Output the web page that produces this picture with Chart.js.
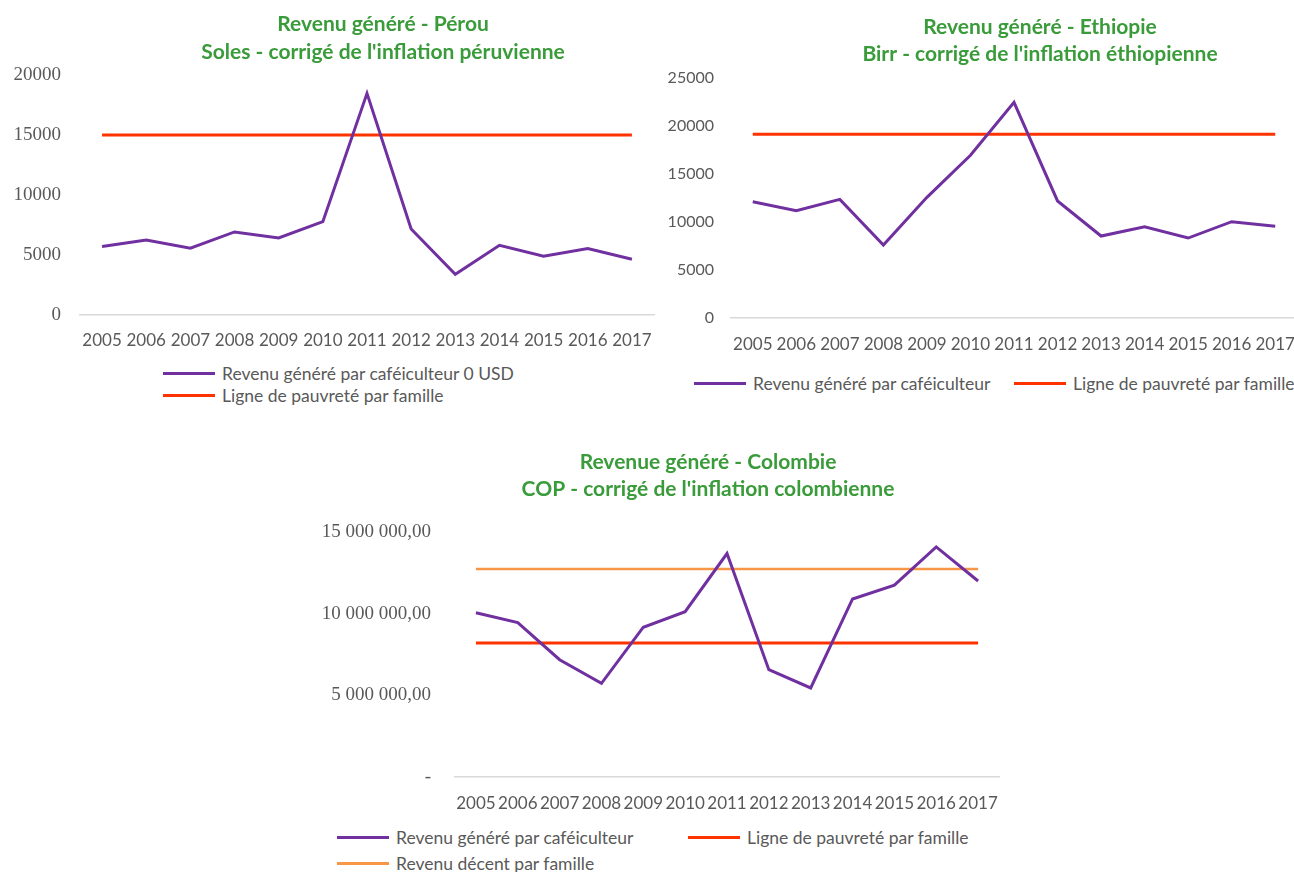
<!DOCTYPE html>
<html><head><meta charset="utf-8">
<script src="https://cdn.jsdelivr.net/npm/chart.js@4.4.1/dist/chart.umd.min.js"></script>
<style>
html,body{margin:0;padding:0;background:#fff;width:1294px;height:872px;overflow:hidden;position:relative;font-family:Lato,sans-serif;}
canvas{position:absolute;}
.item{position:absolute;white-space:nowrap;display:flex;align-items:center;height:20px;font:17.5px Lato,sans-serif;color:#595959;}
.swatch{display:inline-block;width:52px;height:3px;margin-right:7px;}
</style></head><body>
<canvas id="peru" style="left:0px;top:0px" width="766" height="355"></canvas>
<canvas id="eth" style="left:660px;top:0px" width="760" height="358"></canvas>
<canvas id="col" style="left:300px;top:440px" width="816" height="377"></canvas>
<div id="legends"></div>
<script>
const years = ['2005','2006','2007','2008','2009','2010','2011','2012','2013','2014','2015','2016','2017'];

const peruRevenue = [5700, 6250, 5560, 6920, 6420, 7780, 18470, 7170, 3390, 5810, 4890, 5530, 4640];
const peruPoverty = [15000, 15000, 15000, 15000, 15000, 15000, 15000, 15000, 15000, 15000, 15000, 15000, 15000];

const ethRevenue = [12100, 11180, 12360, 7600, 12570, 16950, 22470, 12190, 8540, 9510, 8330, 10030, 9550];
const ethPoverty = [19150, 19150, 19150, 19150, 19150, 19150, 19150, 19150, 19150, 19150, 19150, 19150, 19150];

const colRevenue = [10060000, 9450000, 7180000, 5730000, 9170000, 10120000, 13680000, 6570000, 5450000, 10900000, 11750000, 14090000, 12000000];
const colPoverty = [8200000, 8200000, 8200000, 8200000, 8200000, 8200000, 8200000, 8200000, 8200000, 8200000, 8200000, 8200000, 8200000];
const colDecent = [12730000, 12730000, 12730000, 12730000, 12730000, 12730000, 12730000, 12730000, 12730000, 12730000, 12730000, 12730000, 12730000];
const colTickValues = [0, 5000000, 10000000, 15000000];
const colTickLabels = ['-', '5 000 000,00', '10 000 000,00', '15 000 000,00'];

const peruTitle = ['Revenu généré - Pérou', "Soles - corrigé de l'inflation péruvienne"];
const ethTitle = ['Revenu généré - Ethiopie', "Birr - corrigé de l'inflation éthiopienne"];
const colTitle = ['Revenue généré - Colombie', "COP - corrigé de l'inflation colombienne"];

const PURPLE = '#7030A0', RED = '#FF3300', ORANGE = '#F79646', GREEN = '#3A9B3A', GREY = '#595959';

function makeChart(id, cfg) {
  const ds = cfg.series.map(s => ({
    label: s.label, data: s.data, borderColor: s.color, backgroundColor: s.color,
    borderWidth: s.width || 3, pointRadius: 0, tension: 0, fill: false
  }));
  return new Chart(document.getElementById(id), {
    type: 'line',
    data: { labels: years, datasets: ds },
    options: {
      responsive: false, animation: false, events: [],
      layout: { padding: 0 },
      plugins: {
        legend: { display: false }, tooltip: { enabled: false },
        title: { display: true, text: cfg.title, color: GREEN,
          font: { family: 'Lato', weight: 'bold', size: 21, lineHeight: cfg.titleLH / 21 },
          padding: { top: cfg.titleTop, bottom: cfg.titleBottom } }
      },
      scales: {
        x: { offset: true, grid: { display: false },
          border: { display: true, color: '#D9D9D9', width: 1.5 },
          ticks: { color: GREY, font: { family: 'Lato', size: 17 }, padding: cfg.xPad, maxRotation: 0, autoSkip: false },
          afterFit: s => { s.height = 40; } },
        y: { min: cfg.min, max: cfg.max, grid: { display: false }, border: { display: false },
          ticks: { stepSize: cfg.step, color: GREY, font: cfg.yFont, padding: cfg.yPad,
            callback: cfg.yCb || (v => String(v)) },
          afterFit: s => { s.width = cfg.yWidth; } },
        spacer: { type: 'linear', position: 'right', display: true,
          grid: { display: false }, border: { display: false }, ticks: { display: false },
          afterFit: s => { s.width = cfg.padRight; } }
      }
    }
  });
}

const peru = makeChart('peru', {
  series: [{ label: 'Revenu généré par caféiculteur 0 USD', data: peruRevenue, color: PURPLE },
           { label: 'Ligne de pauvreté par famille', data: peruPoverty, color: RED }],
  title: peruTitle, titleLH: 28, titleTop: 10, titleBottom: 9,
  padRight: 112, min: 0, max: 20000, step: 5000,
  yFont: { family: 'Liberation Serif', size: 19 }, yPad: 11, yWidth: 80, xPad: 7
});

const eth = makeChart('eth', {
  series: [{ label: 'Revenu généré par caféiculteur', data: ethRevenue, color: PURPLE },
           { label: 'Ligne de pauvreté par famille', data: ethPoverty, color: RED }],
  title: ethTitle, titleLH: 27, titleTop: 14, titleBottom: 10,
  padRight: 123, min: 0, max: 25000, step: 5000,
  yFont: { family: 'Lato', size: 16 }, yPad: 9, yWidth: 71, xPad: 8
});

const col = makeChart('col', {
  series: [{ label: 'Revenu généré par caféiculteur', data: colRevenue, color: PURPLE },
           { label: 'Ligne de pauvreté par famille', data: colPoverty, color: RED },
           { label: 'Revenu décent par famille', data: colDecent, color: ORANGE, width: 2.5 }],
  title: colTitle, titleLH: 27, titleTop: 9, titleBottom: 29,
  padRight: 117, min: 0, max: 15000000, step: 5000000,
  yFont: { family: 'Liberation Serif', size: 19 }, yPad: 16, yWidth: 155, xPad: 8,
  yCb: v => { const i = colTickValues.indexOf(v); return i >= 0 ? colTickLabels[i] : ''; }
});

// HTML legends built from the charts' datasets
const legendPlacement = [
  { chart: peru, pos: [[163, 373], [163, 395]] },
  { chart: eth, pos: [[694, 383], [1014, 383]] },
  { chart: col, pos: [[337, 837], [688, 837], [337, 863]] }
];
const host = document.getElementById('legends');
legendPlacement.forEach(lp => {
  lp.chart.data.datasets.forEach((d, i) => {
    const it = document.createElement('div');
    it.className = 'item';
    it.style.left = lp.pos[i][0] + 'px';
    it.style.top = (lp.pos[i][1] - 10) + 'px';
    const sw = document.createElement('span');
    sw.className = 'swatch';
    sw.style.background = d.borderColor;
    const tx = document.createElement('span');
    tx.textContent = d.label;
    it.appendChild(sw); it.appendChild(tx);
    host.appendChild(it);
  });
});
</script>
</body></html>
